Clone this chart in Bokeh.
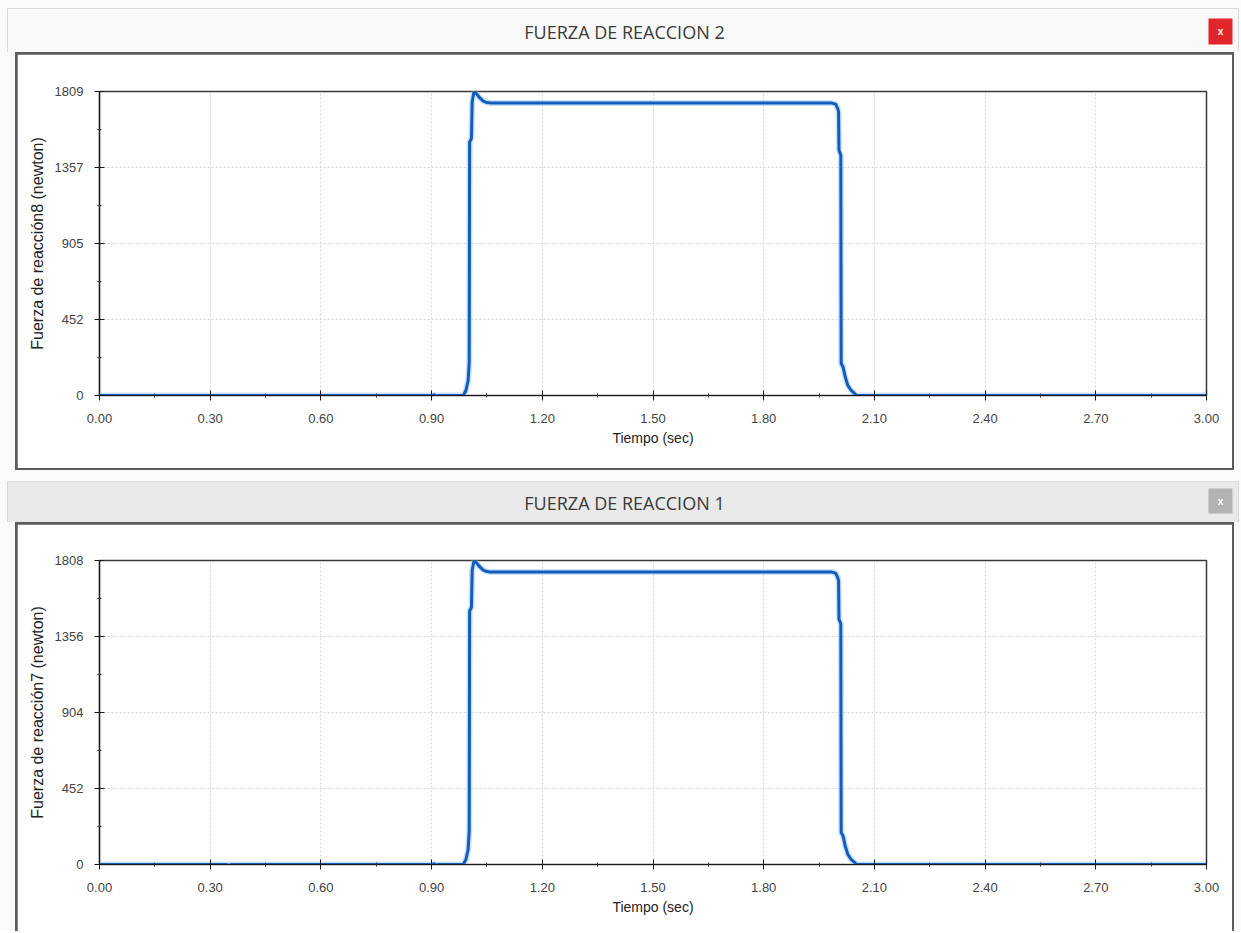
from bokeh.plotting import figure
from bokeh.layouts import column
from bokeh.models import Range1d, FixedTicker, PrintfTickFormatter
from bokeh.core.properties import value
from bokeh.embed import file_html
from bokeh.resources import INLINE

# ---------------- data ----------------
time_top = [0.00, 0.880, 0.895, 0.900, 0.906, 0.912, 0.920, 0.986, 0.993, 0.999,
            1.002, 1.003, 1.008, 1.010, 1.015, 1.022, 1.030, 1.040, 1.050, 1.060,
            1.985, 1.995, 2.001, 2.003, 2.004, 2.009, 2.010, 2.015, 2.021, 2.028,
            2.037, 2.046, 2.052, 3.00]
force_top = [0, 0, 0, -8, 6, -3, 0, 0, 30, 89,
             200, 1507, 1530, 1750, 1809, 1795, 1772, 1752, 1743, 1740,
             1740, 1734, 1705, 1686, 1460, 1430, 190, 170, 110, 60,
             30, 12, 0, 0]

time_bottom = [0.00, 0.345, 0.350, 0.356, 0.880, 0.895, 0.900, 0.906, 0.912, 0.920,
               0.986, 0.993, 0.999, 1.002, 1.003, 1.008, 1.010, 1.015, 1.022, 1.030,
               1.040, 1.050, 1.060, 1.985, 1.995, 2.001, 2.003, 2.004, 2.009, 2.010,
               2.015, 2.021, 2.028, 2.037, 2.046, 2.052, 3.00]
force_bottom = [0, 0, -6, 0, 0, 0, -8, 6, -3, 0,
                0, 30, 89, 200, 1507, 1530, 1750, 1808, 1794, 1771,
                1751, 1742, 1739, 1739, 1733, 1704, 1685, 1460, 1430, 190,
                170, 110, 60, 30, 12, 0, 0]

x_ticks = [0.00, 0.30, 0.60, 0.90, 1.20, 1.50, 1.80, 2.10, 2.40, 2.70, 3.00]
top_y_ticks = [0, 452, 905, 1357, 1809]
bottom_y_ticks = [0, 452, 904, 1356, 1808]
titles = ["FUERZA DE REACCION 2", "FUERZA DE REACCION 1"]
y_labels = ["Fuerza de reacción8 (newton)", "Fuerza de reacción7 (newton)"]
x_label = "Tiempo (sec)"

W = 1241


def midpoints(ticks):
    return [(a + b) / 2 for a, b in zip(ticks[:-1], ticks[1:])]


def title_bar(text, top_gap, bar_color, btn_color, btn_top, btn_bottom, height):
    p = figure(width=W, height=height, x_range=Range1d(0, W), y_range=Range1d(height, 0),
               toolbar_location=None, output_backend="svg", min_border=0,
               x_axis_type=None, y_axis_type=None)
    p.grid.visible = False
    p.outline_line_color = None
    p.background_fill_color = "#fafafa"
    p.border_fill_color = "#fafafa"
    p.quad(left=[7], right=[1238], top=[top_gap], bottom=[height + 2],
           fill_color=bar_color, line_color="#d9d9d9", line_width=1)
    p.quad(left=[1208], right=[1232], top=[btn_top], bottom=[btn_bottom],
           fill_color=btn_color, line_color=None)
    p.text(x=[(1208 + 1232) / 2], y=[(btn_top + btn_bottom) / 2], text=["x"],
           text_align="center", text_baseline="middle", text_color="white",
           text_font=value("Liberation Sans"), text_font_size="10px", text_font_style="bold")
    p.text(x=[624], y=[(top_gap + height) / 2 + 1], text=[text],
           text_align="center", text_baseline="middle", text_color="#3a3a3a",
           text_font=value("Open Sans"), text_font_size="18px")
    return p


def chart(t, f, yticks, ylabel, height, top, bottom):
    p = figure(width=1215, height=height, x_range=Range1d(0, 3), y_range=Range1d(0, yticks[-1]),
               toolbar_location=None, output_backend="svg",
               min_border_left=82, min_border_right=26,
               min_border_top=top, min_border_bottom=bottom)
    p.background_fill_color = "white"
    p.border_fill_color = "white"
    p.outline_line_color = "#3a3a3a"
    p.outline_line_width = 1.5

    xt = FixedTicker(ticks=x_ticks, minor_ticks=midpoints(x_ticks))
    yt = FixedTicker(ticks=yticks, minor_ticks=midpoints(yticks))
    p.xaxis.ticker = xt
    p.yaxis.ticker = yt
    p.xgrid.ticker = xt
    p.ygrid.ticker = yt
    p.xaxis.formatter = PrintfTickFormatter(format="%.2f")
    p.yaxis.formatter = PrintfTickFormatter(format="%d")

    p.grid.grid_line_color = "#d6d6d6"
    p.grid.grid_line_dash = "2 2"
    p.grid.grid_line_width = 1

    p.axis.axis_line_color = "#1a1a1a"
    p.axis.axis_line_width = 1.2
    p.axis.major_tick_line_color = "#1a1a1a"
    p.axis.major_tick_in = 5
    p.axis.major_tick_out = 5
    p.axis.minor_tick_line_color = "#333333"
    p.axis.minor_tick_in = 2
    p.axis.minor_tick_out = 2
    p.axis.major_label_text_font = "Liberation Sans"
    p.axis.major_label_text_font_size = "13px"
    p.axis.major_label_text_color = "#444444"
    p.xaxis.major_label_standoff = 13
    p.yaxis.major_label_standoff = 11

    p.xaxis.axis_label = x_label
    p.yaxis.axis_label = ylabel
    p.axis.axis_label_text_font = "Liberation Sans"
    p.axis.axis_label_text_font_style = "normal"
    p.axis.axis_label_text_color = "#222222"
    p.xaxis.axis_label_text_font_size = "14px"
    p.yaxis.axis_label_text_font_size = "16px"
    p.xaxis.axis_label_standoff = 4
    p.yaxis.axis_label_standoff = 6

    p.line(t, f, line_color="#a9cdf0", line_width=6, line_alpha=0.6)
    p.line(t, f, line_color="#145cbc", line_width=3)
    return p


t1 = title_bar(titles[0], 8, "#f9f9f9", "#e2242b", 18, 44, 52)
c1 = chart(time_top, force_top, top_y_ticks, y_labels[0], 414, 37, 73)
w1 = column(c1, styles={"background-color": "#5c5c5c", "padding": "2px", "margin-left": "15px"})

t2 = title_bar(titles[1], 11, "#e9e9e9", "#b3b3b3", 18, 43, 52)
c2 = chart(time_bottom, force_bottom, bottom_y_ticks, y_labels[1], 407, 36, 67)
w2 = column(c2, styles={"background-color": "#5c5c5c", "padding": "2px 2px 0px 2px", "margin-left": "15px"})

root = column(t1, w1, t2, w2, styles={"background-color": "#fafafa"})

open("out.html", "w").write(file_html(root, INLINE))
